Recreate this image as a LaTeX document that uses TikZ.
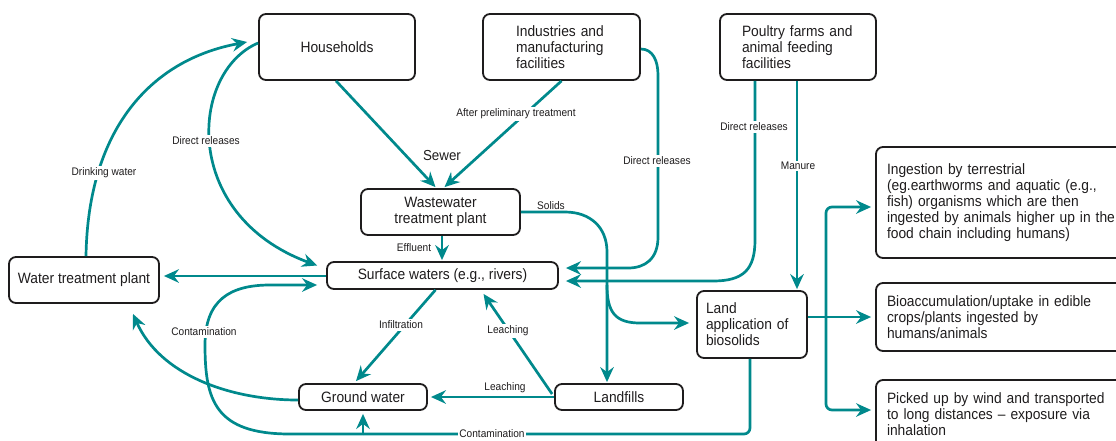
\documentclass[tikz,border=0pt]{standalone}
\usepackage{fontspec}
\setmainfont{Liberation Sans}[FakeStretch=0.92]
\usetikzlibrary{arrows.meta,calc}
\definecolor{teal1}{RGB}{0,137,140}
\definecolor{ink}{RGB}{30,28,29}
\begin{document}
\begin{tikzpicture}[x=1pt,y=-1pt,
 box/.style={draw=ink, line width=1.8pt, rounded corners=7pt, text=ink, font=\fontsize{15}{16}\selectfont, inner sep=0pt},
 flow/.style={draw=teal1, line width=2.7pt, -{Stealth[length=15pt,width=13.5pt,inset=5pt]}},
 pipe/.style={draw=teal1, line width=2.7pt},
 lbl/.style={font=\fontsize{11}{12}\selectfont, text=ink, fill=white, inner sep=1.5pt},
 lblnf/.style={font=\fontsize{11}{12}\selectfont, text=ink, inner sep=1pt}]
\useasboundingbox (0,0) rectangle (1116,440);

% boxes
\node[box, minimum width=156pt, minimum height=66pt] (hh) at (337,47) {Households};
\node[box, minimum width=157pt, minimum height=66pt, text width=91pt, align=left] (ind) at (561.5,47) {Industries and\\manufacturing\\facilities};
\node[box, minimum width=156pt, minimum height=66pt, text width=112pt, align=left] (pf) at (798,47) {Poultry farms and\\animal feeding\\facilities};
\node[box, minimum width=159pt, minimum height=46pt, align=center] (ww) at (440.5,212) {Wastewater\\treatment plant};
\node[box, minimum width=231pt, minimum height=27pt] (sw) at (442.5,275.5) {Surface waters (e.g., rivers)};
\node[box, minimum width=150pt, minimum height=46pt] (wtp) at (84,280) {Water treatment plant};
\node[box, minimum width=128pt, minimum height=26pt] (gw) at (363,397) {Ground water};
\node[box, minimum width=128pt, minimum height=26pt] (lf) at (619,397) {Landfills};
\node[box, minimum width=110pt, minimum height=67pt, text width=92pt, align=left] (la) at (752,324.5) {Land\\application of\\biosolids};
\node[box, minimum width=260pt, minimum height=111pt, text width=238pt, align=left] (b1) at (1006,202.5) {Ingestion by terrestrial\\(eg.earthworms and aquatic (e.g.,\\fish) organisms which are then\\ingested by animals higher up in the\\food chain including humans)};
\node[box, minimum width=260pt, minimum height=68pt, text width=238pt, align=left] (b2) at (1006,317) {Bioaccumulation/uptake in edible\\crops/plants ingested by\\humans/animals};
\node[box, minimum width=260pt, minimum height=68pt, text width=238pt, align=left] (b3) at (1006,414) {Picked up by wind and transported\\to long distances -- exposure via\\inhalation};

% connectors
\draw[flow] ($(wtp.north)+(2,0)$) .. controls (88,130) and (150,60) .. ($(hh.west)+(-11,-5)$);
\draw[flow] ($(hh.west)+(0,-4)$) .. controls (190,72) and (180,215) .. ($(sw.west)+(-9,-10)$);
\draw[flow] ($(hh.south)+(-1,0)$) -- ($(ww.north)+(-5,-1)$);
\draw[flow] (ind.south) -- ($(ww.north)+(4,-1)$);
\draw[flow] ($(ind.east)+(0,2)$) .. controls +(12,0) and +(0,-14) .. (658,75) -- (658,237) .. controls +(0,22) and +(17,0) .. (628,268) -- ($(sw.east)+(7,-7.5)$);
\draw[flow] ($(pf.south)+(-43,0)$) -- (755,240) .. controls +(0,30) and +(30,0) .. (713,281) -- ($(sw.east)+(7,5.5)$);
\draw[flow] ($(pf.south)+(-1,0)$) -- ($(la.north)+(45,-1)$);
\draw[flow] ($(ww.south)+(1.5,0)$) -- ($(sw.north)+(-0.5,-1)$);
\coordinate (sfork) at (607,285);
\draw[flow] (ww.east) -- (565,212) .. controls +(25,0) and +(0,-25) .. (607,252) -- ($(lf.north)+(-12,-1)$);
\draw[flow] (sfork) .. controls (607,312) and (615,323) .. (640,323) -- ($(la.west)+(-7,-1.5)$);
\draw[flow] ($(sw.west)+(0,0.5)$) -- ($(wtp.east)+(4,-4)$);
\coordinate (cj) at (363,434);
\draw[pipe, rounded corners=6pt] ($(la.south)+(-2,0)$) |- (cj);
\draw[flow] (cj) -- (290,434) .. controls (215,434) and (205,400) .. (205,345) .. controls (205,300) and (230,285) .. (270,285) -- ($(sw.west)+(-9,9.5)$);
\draw[flow] (cj) -- ($(gw.south)+(0,3)$);
\draw[flow] ($(gw.west)+(0,3)$) .. controls (230,400) and (160,375) .. ($(wtp.south)+(49,10)$);
\draw[flow] ($(sw.south)+(-7,0)$) -- ($(gw.north)+(-7,-2)$);
\draw[flow] ($(lf.west)+(-2,-3)$) -- ($(sw.south)+(41,4)$);
\draw[flow] (lf.west) -- ($(gw.east)+(3,0)$);
\coordinate (fk) at (826,317);
\draw[pipe] ($(la.east)+(0,-7.5)$) -- (fk);
\draw[flow] (fk) -- ($(b2.west)+(-4,0)$);
\draw[flow, rounded corners=6pt] (fk) |- ($(b1.west)+(-4,4.5)$);
\draw[flow, rounded corners=6pt] (fk) |- ($(b3.west)+(-4,-4)$);

% labels
\node[lbl] (t1) at (104,173) {Drinking water};
\node[lbl] (t2) at (206,141) {Direct releases};
\node[lblnf, font=\fontsize{14.5}{15}\selectfont] (t3) at (442,156) {Sewer};
\node[lbl] (t4) at (516,114) {After preliminary treatment};
\node[lbl] (t5) at (657,161) {Direct releases};
\node[lbl] (t6) at (754,127) {Direct releases};
\node[lbl] (t7) at (798,166) {Manure};
\node[lblnf] (t8) at (414,248) {Effluent};
\node[lblnf] (t9) at (551,206) {Solids};
\node[lbl] (t10) at (204,332) {Contamination};
\node[lbl] (t11) at (492,434) {Contamination};
\node[lbl] (t12) at (401,325) {Infiltration};
\node[lbl] (t13) at (508,331) {Leaching};
\node[lblnf] (t14) at (505,388) {Leaching};
\end{tikzpicture}
\end{document}
